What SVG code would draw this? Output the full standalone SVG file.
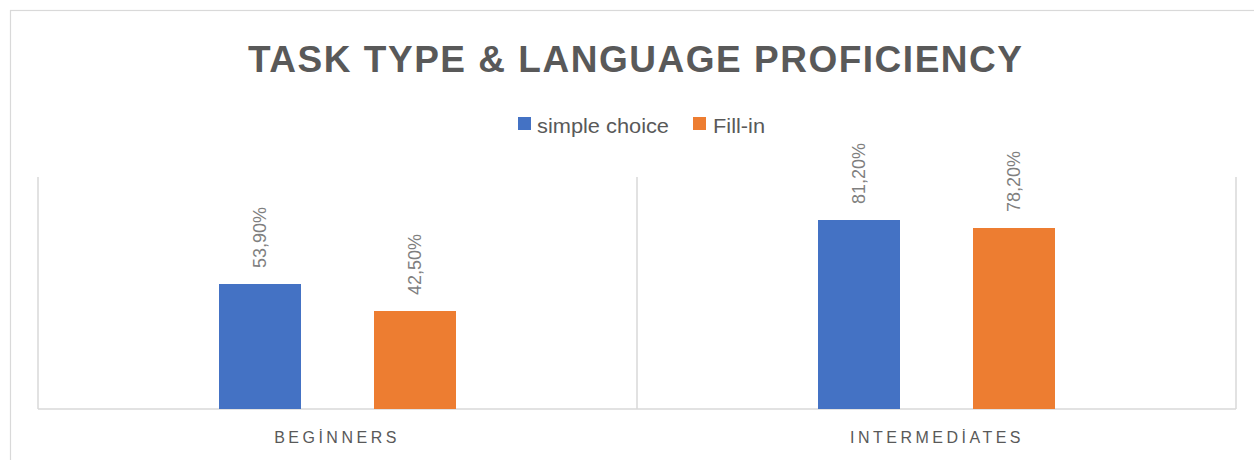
<svg xmlns="http://www.w3.org/2000/svg" width="1254" height="460" viewBox="0 0 1254 460">
<style>
.grid{stroke:#d9d9d9;stroke-width:1.5;fill:none}
.val{font-family:"Liberation Sans",Arial,sans-serif;font-size:18px;fill:#7f7f7f}
.cat{font-family:"Liberation Sans",Arial,sans-serif;font-size:16px;fill:#595959;letter-spacing:3.5px}
.leg{font-family:"Liberation Sans",Arial,sans-serif;font-size:20px;fill:#595959}
.blue{fill:#4472c4}
.orange{fill:#ed7d31}
</style>
<rect x="0" y="0" width="1254" height="460" fill="#ffffff"/>
<rect x="10.5" y="10.5" width="1260" height="470" fill="none" stroke="#d9d9d9" stroke-width="1.2"/>
<g id="title">
<text x="248" y="72" font-family="'Liberation Sans',Arial,sans-serif" font-weight="bold" font-size="37" fill="#595959" textLength="774" lengthAdjust="spacing">TASK TYPE &amp; LANGUAGE PROFICIENCY</text>
</g>
<g id="legend">
<rect class="blue" x="518" y="117" width="13" height="13"/>
<text class="leg" x="537" y="133" textLength="132" lengthAdjust="spacingAndGlyphs">simple choice</text>
<rect class="orange" x="693" y="117" width="13" height="13"/>
<text class="leg" x="713" y="133" textLength="52" lengthAdjust="spacingAndGlyphs">Fill-in</text>
</g>
<g id="axes">
<line class="grid" x1="38" y1="177" x2="38" y2="409"/>
<line class="grid" x1="637" y1="177" x2="637" y2="409"/>
<line class="grid" x1="1236" y1="177" x2="1236" y2="409"/>
<line class="grid" x1="38" y1="409" x2="1236" y2="409"/>
</g>
<g id="beginners">
<rect class="blue" x="219" y="284" width="82" height="125"/>
<rect class="orange" x="374" y="311" width="82" height="98"/>
<text class="val" transform="translate(266,268) rotate(-90)">53,90%</text>
<text class="val" transform="translate(421,295) rotate(-90)">42,50%</text>
<text class="cat" x="337" y="443" text-anchor="middle">BEGİNNERS</text>
</g>
<g id="intermediates">
<rect class="blue" x="818" y="220" width="82" height="189"/>
<rect class="orange" x="973" y="228" width="82" height="181"/>
<text class="val" transform="translate(865,204) rotate(-90)">81,20%</text>
<text class="val" transform="translate(1020,212) rotate(-90)">78,20%</text>
<text class="cat" x="937" y="443" text-anchor="middle">INTERMEDİATES</text>
</g>
</svg>
